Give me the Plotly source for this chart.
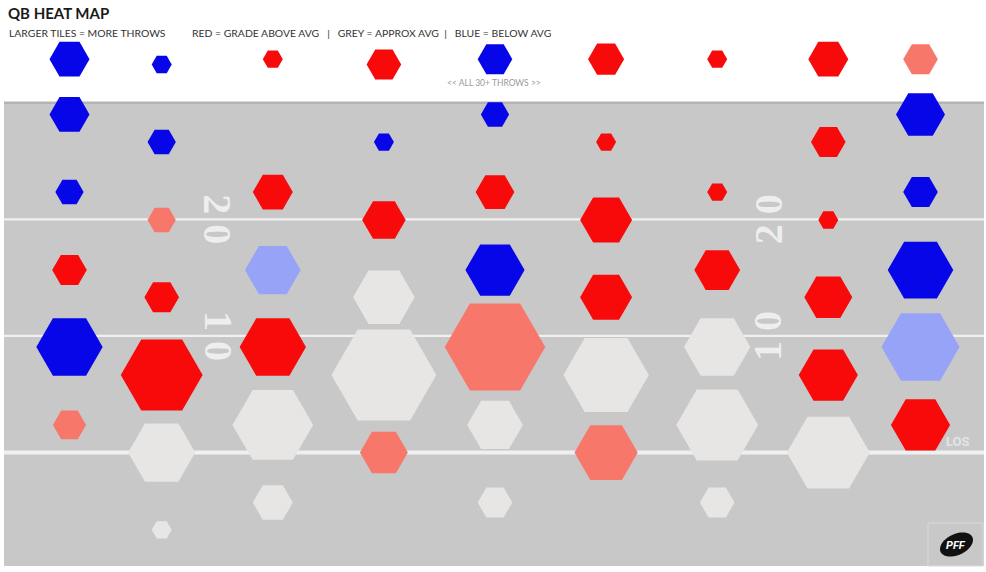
import numpy as np
import plotly.graph_objects as go

# ---------------- data ----------------
# horizontal zone centre (field zones, left -> right), depth of throw (yards past LOS),
# number of throws, grade bucket
GRADE_COLORS = {
    "above": "#f80a0a",
    "slightly above": "#f8776b",
    "average": "#e8e5e5",
    "slightly below": "#97a3f7",
    "below": "#0606e8",
}

col1_depth = [33.73, 28.99, 22.33, 15.65, 9.05, 2.37]
col1_throws = [16, 16, 8, 12, 44, 11]
col1_grade = ["below", "below", "below", "above", "below", "slightly above"]

col2_depth = [33.27, 26.62, 19.94, 13.32, 6.65, 0.0, -6.62]
col2_throws = [4, 8, 8, 12, 67, 45, 4]
col2_grade = ["below", "below", "slightly above", "above", "above", "average", "average"]

col3_depth = [33.73, 22.33, 15.65, 9.05, 2.37, -4.28]
col3_throws = [4, 16, 31, 44, 65, 16]
col3_grade = ["above", "above", "slightly below", "above", "average", "average"]

col4_depth = [33.27, 26.62, 19.94, 13.32, 6.65, 0.0]
col4_throws = [12, 4, 19, 38, 110, 23]
col4_grade = ["above", "below", "above", "average", "average", "slightly above"]

col5_depth = [33.73, 28.99, 22.33, 15.65, 9.05, 2.37, -4.28]
col5_throws = [12, 8, 15, 35, 101, 31, 12]
col5_grade = ["below", "below", "above", "below", "slightly above", "average", "average"]

col6_depth = [33.73, 26.62, 19.94, 13.32, 6.65, 0.0]
col6_throws = [13, 4, 27, 27, 73, 40]
col6_grade = ["above", "above", "above", "above", "average", "slightly above"]

col7_depth = [33.73, 22.33, 15.65, 9.05, 2.37, -4.28]
col7_throws = [4, 4, 21, 44, 67, 12]
col7_grade = ["above", "above", "above", "average", "average", "average"]

col8_depth = [33.73, 26.62, 19.94, 13.32, 6.65, 0.0]
col8_throws = [16, 12, 4, 23, 35, 69]
col8_grade = ["above", "above", "above", "above", "above", "average"]

col9_depth = [33.73, 28.99, 22.33, 15.65, 9.05, 2.37]
col9_throws = [12, 24, 12, 43, 61, 35]
col9_grade = ["slightly above", "below", "below", "below", "slightly below", "above"]

zone_x = [-3.83, -3.0, -2.0, -1.0, 0.0, 1.0, 2.0, 3.0, 3.83]
yard_lines = [0, 10, 20]

TITLE = "QB HEAT MAP"
SUB1 = "LARGER TILES = MORE THROWS"
SUB2 = "RED = GRADE ABOVE AVG  \u00a0|\u00a0\u00a0 GREY = APPROX AVG \u00a0|\u00a0\u00a0 BLUE = BELOW AVG"

# ---------------- build ----------------
cols = [
    (col1_depth, col1_throws, col1_grade),
    (col2_depth, col2_throws, col2_grade),
    (col3_depth, col3_throws, col3_grade),
    (col4_depth, col4_throws, col4_grade),
    (col5_depth, col5_throws, col5_grade),
    (col6_depth, col6_throws, col6_grade),
    (col7_depth, col7_throws, col7_grade),
    (col8_depth, col8_throws, col8_grade),
    (col9_depth, col9_throws, col9_grade),
]
xs, ys, ss, cs = [], [], [], []
for zx, (d, t, g) in zip(zone_x, cols):
    for dd, tt, gg in zip(d, t, g):
        xs.append(zx)
        ys.append(dd)
        ss.append(10 * np.sqrt(tt))
        cs.append(GRADE_COLORS[gg])

W, H = 986, 572
X0, XPX = 495, 111.1      # pixel of zone 0, px per zone
Y0, YPX = 452.6, 11.665   # pixel of LOS, px per yard
xr = [-X0 / XPX, (W - X0) / XPX]
yr = [(Y0 - H) / YPX, Y0 / YPX]

def px_x(p):
    return (p - X0) / XPX

def px_y(p):
    return (Y0 - p) / YPX

fig = go.Figure()
fig.add_trace(go.Scatter(
    x=xs, y=ys, mode="markers",
    marker=dict(symbol="hexagon2", size=ss, color=cs, line=dict(width=0), opacity=1),
    hoverinfo="skip", showlegend=False,
))

shapes = []
fx0, fx1 = px_x(4), px_x(984)
fy0, fy1 = px_y(566), 30.0
shapes.append(dict(type="rect", x0=fx0, x1=fx1, y0=fy0, y1=fy1, xref="x", yref="y",
                   fillcolor="#c8c8c8", line=dict(width=0), layer="below"))
shapes.append(dict(type="line", x0=fx0, x1=fx1, y0=fy1, y1=fy1, xref="x", yref="y",
                   line=dict(color="#b3b3b3", width=2.5), layer="below"))
for yl in yard_lines:
    shapes.append(dict(type="line", x0=fx0, x1=fx1, y0=yl, y1=yl, xref="x", yref="y",
                       line=dict(color="#f0f0f0", width=4 if yl == 0 else 2.2), layer="below"))

# PFF logo box
shapes.append(dict(type="rect", x0=px_x(928), x1=px_x(983), y0=px_y(566), y1=px_y(523),
                   xref="x", yref="y", fillcolor="rgba(0,0,0,0)",
                   line=dict(color="#dadada", width=1), layer="below"))
t = np.linspace(0, 2 * np.pi, 60)
cx, cy, a, b, ang = 956.5, 544.5, 17.5, 10.5, np.deg2rad(-25)
ex = cx + a * np.cos(t) * np.cos(ang) - b * np.sin(t) * np.sin(ang)
ey = cy + a * np.cos(t) * np.sin(ang) + b * np.sin(t) * np.cos(ang)
path = "M " + " L ".join(f"{px_x(u):.4f},{px_y(v):.4f}" for u, v in zip(ex, ey)) + " Z"
shapes.append(dict(type="path", path=path, xref="x", yref="y",
                   fillcolor="#111111", line=dict(width=0), layer="above"))

ann = []
ann.append(dict(text="<b>" + TITLE + "</b>", x=6 / W, y=1 - 13 / H, xref="paper", yref="paper",
                xanchor="left", yanchor="middle", showarrow=False,
                font=dict(family="Lato", size=15, color="#1a1a1a")))
ann.append(dict(text=SUB1, x=7 / W, y=1 - 33 / H, xref="paper", yref="paper",
                xanchor="left", yanchor="middle", showarrow=False,
                font=dict(family="Lato", size=10.4, color="#333333")))
ann.append(dict(text=SUB2, x=190 / W, y=1 - 33 / H, xref="paper", yref="paper",
                xanchor="left", yanchor="middle", showarrow=False,
                font=dict(family="Lato", size=10.4, color="#333333")))
ann.append(dict(text="<< ALL 30+ THROWS >>", x=494 / W, y=1 - 83 / H, xref="paper", yref="paper",
                xanchor="center", yanchor="middle", showarrow=False,
                font=dict(family="Lato", size=8.5, color="#9a9a9a")))
for yl in [20, 10]:
    ann.append(dict(text=f"<b>{yl // 10} 0</b>", x=px_x(218), y=yl, xref="x", yref="y",
                    textangle=90, showarrow=False, xanchor="center", yanchor="middle",
                    font=dict(family="Liberation Serif", size=40, color="rgba(242,242,242,0.92)")))
    ann.append(dict(text=f"<b>{yl // 10} 0</b>", x=px_x(768), y=yl, xref="x", yref="y",
                    textangle=-90, showarrow=False, xanchor="center", yanchor="middle",
                    font=dict(family="Liberation Serif", size=40, color="rgba(242,242,242,0.92)")))
ann.append(dict(text="<b>LOS</b>", x=px_x(958), y=px_y(441), xref="x", yref="y",
                showarrow=False, xanchor="center", yanchor="middle",
                font=dict(family="Roboto", size=13, color="#e4e4e4")))
ann.append(dict(text="<b><i>PFF</i></b>", x=px_x(956), y=px_y(545), xref="x", yref="y",
                showarrow=False, xanchor="center", yanchor="middle",
                font=dict(family="Roboto", size=11, color="#ffffff")))

fig.update_layout(
    width=W, height=H, margin=dict(l=0, r=0, t=0, b=0),
    paper_bgcolor="white", plot_bgcolor="white",
    xaxis=dict(range=xr, visible=False, fixedrange=True),
    yaxis=dict(range=yr, visible=False, fixedrange=True),
    shapes=shapes, annotations=ann, showlegend=False,
)
fig.write_html("out.html", config={"displayModeBar": False})
